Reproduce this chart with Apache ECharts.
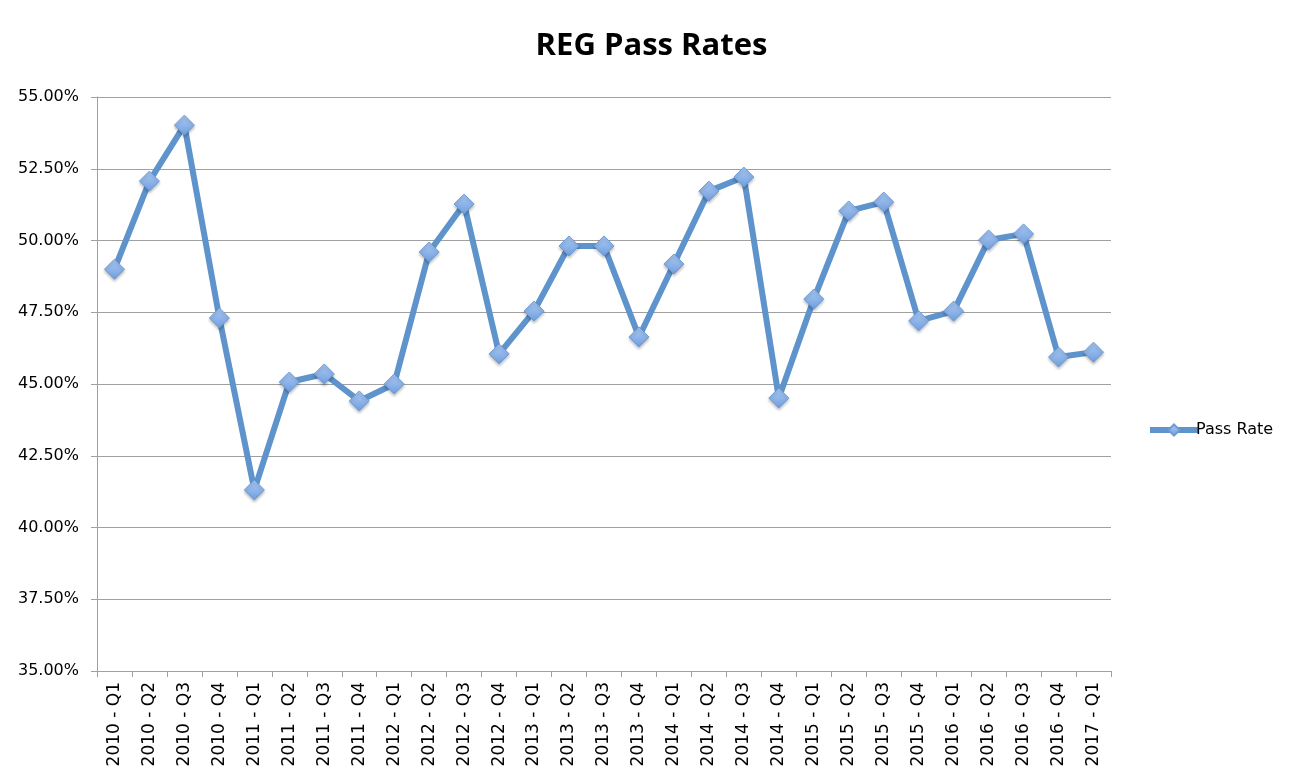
<!DOCTYPE html>
<html><head><meta charset="utf-8">
<script src="https://cdn.jsdelivr.net/npm/echarts@6/dist/echarts.min.js"></script>
<style>html,body{margin:0;padding:0;background:#fff}#c{width:1303px;height:783px}</style>
</head><body><div id="c"></div>
<script>
const categories = ["2010 - Q1","2010 - Q2","2010 - Q3","2010 - Q4","2011 - Q1","2011 - Q2","2011 - Q3","2011 - Q4","2012 - Q1","2012 - Q2","2012 - Q3","2012 - Q4","2013 - Q1","2013 - Q2","2013 - Q3","2013 - Q4","2014 - Q1","2014 - Q2","2014 - Q3","2014 - Q4","2015 - Q1","2015 - Q2","2015 - Q3","2015 - Q4","2016 - Q1","2016 - Q2","2016 - Q3","2016 - Q4","2017 - Q1"];
const passRate = [49.0,52.07,54.02,47.3,41.31,45.07,45.35,44.41,45.0,49.6,51.27,46.05,47.54,49.81,49.81,46.64,49.18,51.72,52.21,44.51,47.96,51.03,51.34,47.2,47.54,50.02,50.23,45.94,46.11];
const seriesName = "Pass Rate";
const chart = echarts.init(document.getElementById('c'));
const font = '"DejaVu Sans",sans-serif';
const markerFill = new echarts.graphic.LinearGradient(0,0,0,1,[{offset:0,color:'#a6c6f0'},{offset:0.5,color:'#8fb5ea'},{offset:1,color:'#6e9ddd'}]);
chart.setOption({
  animation: false,
  title: {text: 'REG Pass Rates', left: 'center', top: 26, textStyle: {fontSize: 31, fontWeight: 'bold', color: '#000', fontFamily: '"Open Sans",sans-serif'}},
  legend: {data: [{name: seriesName}], orient: 'vertical', left: 1142, top: 417, itemWidth: 48, itemHeight: 14, itemGap: 0,
    lineStyle: {width: 6},
    textStyle: {fontSize: 16, color: '#000', fontFamily: font, padding: [0,0,0,-7]}},
  grid: {left: 97, right: 192, top: 97, bottom: 112},
  xAxis: {type: 'category', data: categories, boundaryGap: true,
    axisLine: {lineStyle: {color: '#a0a0a0'}},
    axisTick: {show: true, length: 6, lineStyle: {color: '#a0a0a0'}},
    axisLabel: {rotate: 90, interval: 0, fontSize: 17, color: '#000', fontFamily: font, margin: 11}},
  yAxis: {type: 'value', min: 35, max: 55, interval: 2.5,
    axisLine: {show: true, lineStyle: {color: '#a0a0a0'}},
    axisTick: {show: true, length: 6, lineStyle: {color: '#a0a0a0'}},
    splitLine: {lineStyle: {color: '#a0a0a0'}},
    axisLabel: {fontSize: 16, color: '#000', fontFamily: font, margin: 18, formatter: v => v.toFixed(2) + '%'}},
  series: [{name: seriesName, type: 'line', data: passRate,
    symbol: 'diamond', symbolSize: 20,
    lineStyle: {width: 6, color: '#5e93cc'},
    itemStyle: {color: markerFill, borderColor: '#6c9bd6', borderWidth: 1, shadowColor: 'rgba(0,0,0,0.25)', shadowBlur: 3, shadowOffsetY: 2}
  }]
});
</script></body></html>
